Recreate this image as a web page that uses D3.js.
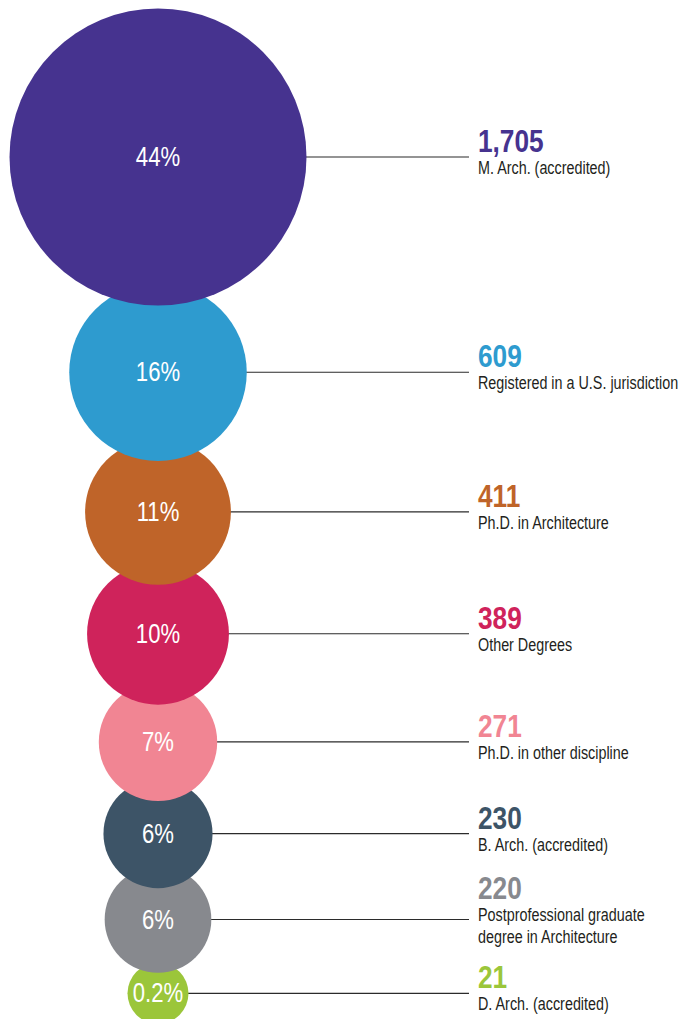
<!DOCTYPE html>
<html>
<head>
<meta charset="utf-8">
<script src="https://cdn.jsdelivr.net/npm/d3@7/dist/d3.min.js"></script>
<style>
  html, body { margin: 0; padding: 0; background: #fff; }
  svg { display: block; }
  text { font-family: "Liberation Sans", Arial, sans-serif; }
  .val { font-weight: bold; }
  .lab { fill: #231f20; }
  .pct { fill: #fff; }
</style>
</head>
<body>
<div class="bubbles"></div>
<script>
// data
const counts = [1705, 609, 411, 389, 271, 230, 220, 21]
const shares = ['44%', '16%', '11%', '10%', '7%', '6%', '6%', '0.2%']
const labels = [
    ['M. Arch. (accredited)'],
    ['Registered in a U.S. jurisdiction'],
    ['Ph.D. in Architecture'],
    ['Other Degrees'],
    ['Ph.D. in other discipline'],
    ['B. Arch. (accredited)'],
    ['Postprofessional graduate', 'degree in Architecture'],
    ['D. Arch. (accredited)']
]
const colors = ['#46338f', '#2e9bcf', '#bf6429', '#cf235b', '#f18593', '#3d5467', '#87898e', '#9bc63a']

const width = 680
const height = 1019
const cx = 158
const lineEnd = 469
const textX = 478
const narrow = 0.82 // squeeze Liberation Sans to look like a narrow face

const root = d3.select('.bubbles')
root.html('')

const svg = root.append('svg')
    .attr('width', width)
    .attr('height', height)

const r = d3.scaleSqrt().domain([0, d3.max(counts)]).range([0, 148.5])
const radius = v => Math.max(30.5, r(v))

// stack circles top to bottom, overlapping a little
const items = counts.map((v, i) => ({
    val: v, pct: shares[i], lines: labels[i], color: colors[i], rad: radius(v)
}))
items.forEach((d, i) => {
    if (i === 0) {
        d.cy = 8.5 + d.rad
    } else {
        const prev = items[i - 1]
        const overlap = d.rad < 40 ? 10 : 22
        d.cy = prev.cy + prev.rad + d.rad - overlap
    }
})

// leader lines first, behind circles
svg.append('g')
    .selectAll('line')
    .data(items)
    .enter()
    .append('line')
    .attr('x1', cx)
    .attr('x2', lineEnd)
    .attr('y1', d => d.cy)
    .attr('y2', d => d.cy)
    .attr('stroke', '#2b2b2b')
    .attr('stroke-width', 1.1)

// circles: upper (bigger) ones sit on top, so draw from the bottom up
const bub = svg.append('g')
    .selectAll('g')
    .data(items.slice().reverse())
    .enter()
    .append('g')
    .attr('transform', d => `translate(${cx},${d.cy})`)

bub.append('circle')
    .attr('r', d => d.rad)
    .style('fill', d => d.color)

bub.append('text')
    .attr('class', 'pct')
    .attr('transform', `scale(${narrow},1)`)
    .attr('y', 9)
    .attr('text-anchor', 'middle')
    .style('font-size', '27px')
    .text(d => d.pct)

// value + label text
const txt = svg.append('g')
    .selectAll('g')
    .data(items)
    .enter()
    .append('g')
    .attr('transform', d => `translate(${textX},${d.cy - (d.lines.length - 1) * 16}) scale(${narrow},1)`)

txt.append('text')
    .attr('class', 'val')
    .attr('y', -5)
    .style('font-size', '32px')
    .style('fill', d => d.color)
    .text(d => d3.format(',')(d.val))

txt.selectAll('text.lab')
    .data(d => d.lines)
    .enter()
    .append('text')
    .attr('class', 'lab')
    .attr('y', (d, i) => 17 + i * 22)
    .style('font-size', '17.5px')
    .text(d => d)
</script>
</body>
</html>
